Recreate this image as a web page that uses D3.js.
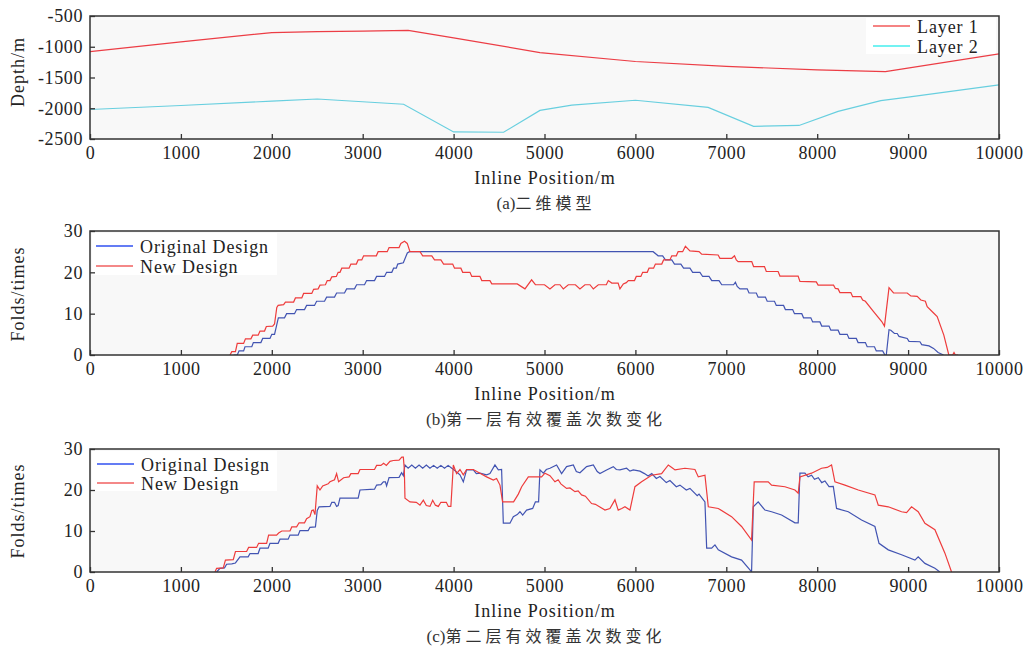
<!DOCTYPE html>
<html>
<head>
<meta charset="utf-8">
<script src="https://cdn.jsdelivr.net/npm/d3@7"></script>
<style>
  body { margin: 0; background: #fff; }
  text { font-family: "Liberation Serif", "Noto Sans CJK SC", serif; fill: #222; }
</style>
</head>
<body>
<svg id="chart" width="1025" height="648"></svg>
<script>
// (a) model layers: [inline position, depth]
var layer1 = [[0,-1080],[1000,-920],[2000,-770],[2500,-755],[3000,-745],[3500,-735],[4000,-855],
    [4950,-1095],[6000,-1240],[7000,-1320],[8000,-1375],[8750,-1405],[10000,-1115]];
var layer2 = [[0,-2020],[1000,-1955],[2000,-1885],[2500,-1850],[3450,-1935],[4000,-2385],[4550,-2390],
    [4950,-2035],[5300,-1950],[6000,-1870],[6800,-1985],[7300,-2295],[7800,-2280],[8230,-2050],
    [8700,-1875],[9000,-1820],[10000,-1620]];

// (b) layer 1 folds
var foldsB_orig = [[1580,0],[1620,0],[1640,1],[1690,1],[1705,2],[1780,2],[1797,3],[1880,3],[1900,4],
    [1980,4],[2000,5],[2030,5],[2072,9],[2140,9],[2163,10],[2250,10],[2273,11],[2360,11],[2383,12],
    [2470,12],[2493,13],[2580,13],[2603,14],[2690,14],[2713,15],[2800,15],[2823,16],[2910,16],
    [2933,17],[3020,17],[3043,18],[3130,18],[3153,19],[3240,19],[3263,20],[3320,20],[3340,21],
    [3370,21],[3385,22],[3447,22.3],[3491,24.7],[3515,25],[6195,25],[6250,24],[6300,24],[6330,23],
    [6400,23],[6430,22],[6500,22],[6530,21],[6600,21],[6630,20],[6710,20],[6740,19],[6810,19],
    [6840,18],[6920,18],[6950,17],[7080,17],[7100,17.6],[7120,16.6],[7150,16],[7230,16],[7250,15],
    [7330,15],[7350,14],[7430,14],[7450,13],[7530,13],[7550,12],[7630,12],[7650,11],[7730,11],
    [7750,10],[7830,10],[7850,9],[7930,9],[7950,8],[8030,8],[8050,7],[8130,7],[8150,6],[8230,6],
    [8250,5],[8330,5],[8350,4],[8430,4],[8450,3],[8530,3],[8550,2],[8630,2],[8650,1],[8720,1],
    [8745,0],[8760,0],[8790,6.1],[8810,6],[8850,5.2],[8880,5.2],[8900,4.5],[8990,4],[9010,3.3],
    [9130,3.2],[9150,2.5],[9230,2.2],[9280,1.6],[9330,0.6],[9390,0]];
var foldsB_new = [[1540,0],[1560,0.8],[1600,0.8],[1620,2.8],[1690,2.8],[1710,3.9],[1770,3.9],
    [1790,4.8],[1850,4.8],[1870,5.8],[1920,5.8],[1940,6.9],[2010,7],[2030,7.5],[2055,11.5],
    [2070,12],[2130,12.2],[2150,12.8],[2240,12.8],[2260,13.8],[2330,13.8],[2350,14.9],[2440,14.9],
    [2460,15.9],[2510,16],[2530,16.9],[2590,17],[2610,18],[2640,18],[2660,18.9],[2710,19],
    [2730,20],[2750,20],[2770,21],[2850,21],[2870,22],[2930,22],[2950,23],[2990,23],[3010,24],
    [3150,24],[3170,25],[3270,25],[3290,26],[3400,26],[3420,27],[3460,27.5],[3490,27],[3520,25],
    [3630,25],[3660,24],[3760,24],[3790,23],[3860,23],[3890,22],[3990,22],[4010,21],[4080,21],
    [4100,20],[4180,20],[4200,19],[4290,19],[4310,18],[4400,18],[4420,17.2],[4700,17.2],[4785,16],
    [4858,18.2],[4900,17],[5000,17],[5060,16],[5115,17],[5170,17],[5207,16],[5262,17],[5340,17],
    [5390,16],[5445,17],[5500,17],[5537,16],[5592,17],[5680,17],[5702,18],[5740,17.4],[5810,17.4],
    [5830,16],[5867,17.2],[5900,17.5],[5922,18],[5990,18],[6010,19],[6060,19],[6080,20],[6130,20],
    [6150,21],[6200,21],[6220,22],[6290,22],[6310,23],[6380,23],[6400,24],[6450,24],[6470,25],
    [6520,25],[6550,26.3],[6600,25.2],[6700,25],[6729,24.4],[6910,24.2],[6930,23.4],[7060,23.4],
    [7090,24],[7110,23],[7130,22.6],[7280,22.6],[7300,21.4],[7420,21.4],[7440,20.2],[7570,20.2],
    [7590,19.1],[7790,19.1],[7810,17.8],[7990,17.7],[8010,16.9],[8180,16.9],[8200,16.1],[8230,16],
    [8250,15.1],[8370,15.1],[8390,14.1],[8480,14.1],[8500,13.3],[8530,13],[8620,10.5],[8710,8.1],
    [8740,7],[8790,16.3],[8840,15],[8990,15],[9030,14.3],[9100,14.2],[9140,13.3],[9190,13],
    [9210,11.7],[9283,10.1],[9320,9.3],[9393,4.8],[9448,0],[9490,0],[9505,0.6],[9520,0],[9550,0]];

// (c) layer 2 folds
var foldsC_orig = [[1393,0],[1430,0.9],[1480,1],[1503,1.9],[1560,2],[1600,2.2],[1650,3.7],[1740,3.7],
    [1760,4.5],[1850,4.5],[1870,5.8],[1960,5.8],[1980,7],[2070,7],[2090,8],[2180,8],[2200,9],
    [2290,9],[2310,10.1],[2400,10.1],[2420,10.9],[2480,11],[2500,15],[2520,15.9],[2640,16],
    [2660,17],[2690,17],[2713,16],[2730,16.2],[2750,18],[2950,18],[2970,20],[3130,20.2],[3153,21.2],
    [3200,21.3],[3227,22],[3250,22],[3263,21],[3290,23],[3400,23.1],[3428,24.2],[3447,23.5],
    [3465,26.1],[3500,25.3],[3540,26.1],[3580,25.3],[3620,26.1],[3660,25.3],[3700,26.1],[3740,25.3],
    [3780,26],[3820,25.3],[3860,26],[3900,25.3],[3940,26],[3980,25.3],[4000,25],[4070,23.7],
    [4107,22],[4143,24.9],[4217,24.9],[4250,24],[4290,24.1],[4363,23.7],[4400,24],[4455,26.1],
    [4492,24.9],[4528,25],[4547,11.9],[4620,11.9],[4657,13.5],[4700,14],[4730,14.7],[4760,13.9],
    [4803,15.1],[4870,15.5],[4900,17.1],[4935,17.1],[4950,24.9],[4987,24.1],[5020,25],[5060,25.3],
    [5133,26.1],[5188,24],[5243,25.7],[5317,26.1],[5350,24.5],[5390,24.2],[5463,25.7],[5537,26.1],
    [5580,24.5],[5610,24],[5683,24.9],[5757,25.7],[5790,25],[5830,24.9],[5903,25.3],[5940,24.6],
    [5977,24.9],[6050,24.6],[6100,24],[6140,23.4],[6180,24],[6230,22.8],[6270,23.3],[6340,21.8],
    [6380,22.3],[6450,20.8],[6490,21.2],[6560,20],[6600,20.4],[6680,18.6],[6700,19],[6765,17.1],
    [6784,5.8],[6839,5.8],[6875,6.6],[6912,5.4],[7058,3.7],[7168,2.9],[7260,0.5],[7278,0],
    [7297,15.9],[7351,17.1],[7425,15.1],[7498,14.7],[7608,13.9],[7755,12],[7791,12],[7810,24.1],
    [7865,24.1],[7900,23.2],[7938,23.6],[7970,22.6],[8012,23],[8050,21.8],[8085,22.2],[8130,20.8],
    [8177,20.9],[8213,15.5],[8342,14.7],[8488,12.7],[8635,11.1],[8680,7],[8782,5.4],[8928,4.2],
    [9075,2.9],[9111,3.7],[9185,2.1],[9295,0.9],[9350,0]];
var foldsC_new = [[1375,0],[1393,0.9],[1466,1],[1490,2.9],[1576,3],[1600,5],[1723,5],[1745,6],
    [1833,6],[1855,7],[1943,7],[1965,9],[2053,9],[2075,9.5],[2110,10],[2200,10],[2220,11],[2273,11],
    [2300,12],[2360,12],[2383,13],[2420,13.5],[2440,15],[2457,15.1],[2475,14],[2500,21],[2530,20],
    [2560,21],[2620,21.5],[2640,22],[2690,22.5],[2713,24],[2735,22],[2790,23],[2850,23.2],[2870,24],
    [2950,24],[2970,25],[3130,25],[3153,26],[3200,26],[3230,26.5],[3260,26],[3300,27],[3337,27.2],
    [3400,27.3],[3430,28],[3447,28],[3458,25],[3465,18],[3520,17.1],[3590,17],[3630,16.3],
    [3667,17.5],[3700,16.2],[3740,16],[3770,17.5],[3800,16.3],[3832,16],[3860,17],[3920,17],
    [3942,16],[3970,16],[3997,26.1],[4033,24],[4070,25],[4107,23.7],[4143,25],[4217,25],[4290,24.1],
    [4363,23.2],[4437,22.4],[4473,22.8],[4510,21.2],[4539,17.1],[4660,17.1],[4712,19],[4749,20.8],
    [4822,23.2],[4968,23.2],[5005,24.1],[5060,23.5],[5115,22],[5150,22.5],[5180,21.5],[5243,20.4],
    [5280,20.5],[5335,19.6],[5370,19.8],[5408,18.8],[5450,18.5],[5518,16.7],[5560,16.5],[5600,16],
    [5665,15.1],[5720,15.5],[5775,17.6],[5811,15.1],[5850,15.5],[5885,15.9],[5940,15.1],[5995,20.8],
    [6068,22],[6178,23.6],[6288,24],[6362,26.1],[6400,25.5],[6436,24.9],[6545,25.3],[6655,25],
    [6692,23.2],[6765,23.6],[6802,15.9],[6912,15.5],[7058,13.5],[7168,11.1],[7278,7.8],[7307,22],
    [7461,22],[7498,21.2],[7645,20.8],[7755,20],[7791,19.2],[7810,23.2],[7938,24.1],[8048,25.3],
    [8110,25.5],[8158,26.1],[8195,22],[8305,21.2],[8452,20],[8635,18.8],[8672,16.3],[8782,15.9],
    [8928,14.7],[8983,14.5],[9038,15.9],[9111,14.7],[9185,11.9],[9295,10.3],[9405,4.6],[9478,0]];

var xTicks = [0,1000,2000,3000,4000,5000,6000,7000,8000,9000,10000];
var depthTicks = [-500,-1000,-1500,-2000,-2500];
var foldTicks = [0,10,20,30];

var svg = d3.select('#chart');
var left = 90, right = 999;

var x = d3.scaleLinear().domain([0, 10000]).range([left, right]);

function plain(d) { return String(d); }

function panel(id, top, bottom, yDomain, yTicks, series, legend, legendBox, yLabel, capTag, capText) {
    var y = d3.scaleLinear().domain(yDomain).range([bottom, top]);
    var g = svg.append('g');

    g.append('rect')
        .attr('x', left).attr('y', top)
        .attr('width', right - left).attr('height', bottom - top)
        .style('fill', '#f8f8f8');

    // legend background
    g.append('rect')
        .attr('x', legendBox[0]).attr('y', legendBox[1])
        .attr('width', legendBox[2]).attr('height', legendBox[3])
        .style('fill', '#fff');

    g.append('clipPath').attr('id', 'clip' + id)
        .append('rect')
        .attr('x', left).attr('y', top - 1)
        .attr('width', right - left).attr('height', bottom - top + 1);

    var line = d3.line()
        .x(function(d){ return x(d[0]); })
        .y(function(d){ return y(d[1]); });

    series.forEach(function(s) {
        g.append('path')
            .datum(s.data)
            .attr('d', line)
            .attr('clip-path', 'url(#clip' + id + ')')
            .style('fill', 'none')
            .style('stroke', s.color)
            .style('stroke-width', 1.2);
    });

    var xAxis = d3.axisBottom(x).tickValues(xTicks).tickFormat(plain)
        .tickSizeInner(-5).tickSizeOuter(0).tickPadding(7);
    var yAxis = d3.axisLeft(y).tickValues(yTicks).tickFormat(plain)
        .tickSizeInner(-5).tickSizeOuter(0).tickPadding(7);

    var ax = g.append('g').attr('transform', 'translate(0,' + bottom + ')').call(xAxis);
    var ay = g.append('g').attr('transform', 'translate(' + left + ',0)').call(yAxis);
    [ax, ay].forEach(function(a) {
        a.select('.domain').remove();
        a.selectAll('line').style('stroke', '#333').style('stroke-width', 1.3);
        a.selectAll('text')
            .style('font-family', '"Liberation Serif", serif')
            .style('font-size', '18px')
            .style('letter-spacing', '0.6px')
            .style('fill', '#222');
    });

    g.append('rect')
        .attr('x', left).attr('y', top)
        .attr('width', right - left).attr('height', bottom - top)
        .style('fill', 'none')
        .style('stroke', '#333')
        .style('stroke-width', 1.5);

    legend.forEach(function(l) {
        g.append('line')
            .attr('x1', l.x).attr('x2', l.x + 37)
            .attr('y1', l.y).attr('y2', l.y)
            .style('stroke', l.color).style('stroke-width', 1.5);
        g.append('text')
            .attr('x', l.x + 44).attr('y', l.y + 6.5)
            .style('font-size', '18px')
            .style('letter-spacing', '0.9px')
            .text(l.label);
    });

    g.append('text')
        .attr('transform', 'translate(24,' + yLabel.y + ') rotate(-90)')
        .attr('text-anchor', 'middle')
        .style('font-size', '18px')
        .style('letter-spacing', '1px')
        .text(yLabel.text);

    g.append('text')
        .attr('x', 545).attr('y', bottom + 45)
        .attr('text-anchor', 'middle')
        .style('font-size', '18px')
        .style('letter-spacing', '1px')
        .text('Inline Position/m');

    var cap = g.append('text')
        .attr('x', 546).attr('y', bottom + 70)
        .attr('text-anchor', 'middle')
        .style('fill', '#333');
    cap.append('tspan')
        .style('font-size', '17px')
        .text(capTag);
    cap.append('tspan')
        .style('font-size', '16px')
        .style('letter-spacing', '4px')
        .style('fill', '#333')
        .text(capText);
}

panel('a', 16, 139, [-2500, -500], depthTicks,
    [{data: layer1, color: '#ec3d45'}, {data: layer2, color: '#68cfdf'}],
    [{x: 873, y: 26, color: '#f25a5a', label: 'Layer 1'},
     {x: 873, y: 46, color: '#45eeee', label: 'Layer 2'}],
    [866, 18, 130, 36],
    {text: 'Depth/m', y: 72}, '(a)', '二维模型');

panel('b', 231, 355, [0, 30], foldTicks,
    [{data: foldsB_orig, color: '#4254b2'}, {data: foldsB_new, color: '#ee3c3c'}],
    [{x: 96, y: 246, color: '#3050f0', label: 'Original Design'},
     {x: 96, y: 266, color: '#f06060', label: 'New Design'}],
    [92, 233, 185, 42],
    {text: 'Folds/times', y: 294}, '(b)', '第一层有效覆盖次数变化');

panel('c', 449, 572, [0, 30], foldTicks,
    [{data: foldsC_orig, color: '#4254b2'}, {data: foldsC_new, color: '#ee3c3c'}],
    [{x: 97, y: 464, color: '#3050f0', label: 'Original Design'},
     {x: 97, y: 483, color: '#f06060', label: 'New Design'}],
    [92, 451, 185, 40],
    {text: 'Folds/times', y: 511}, '(c)', '第二层有效覆盖次数变化');
</script>
</body>
</html>
